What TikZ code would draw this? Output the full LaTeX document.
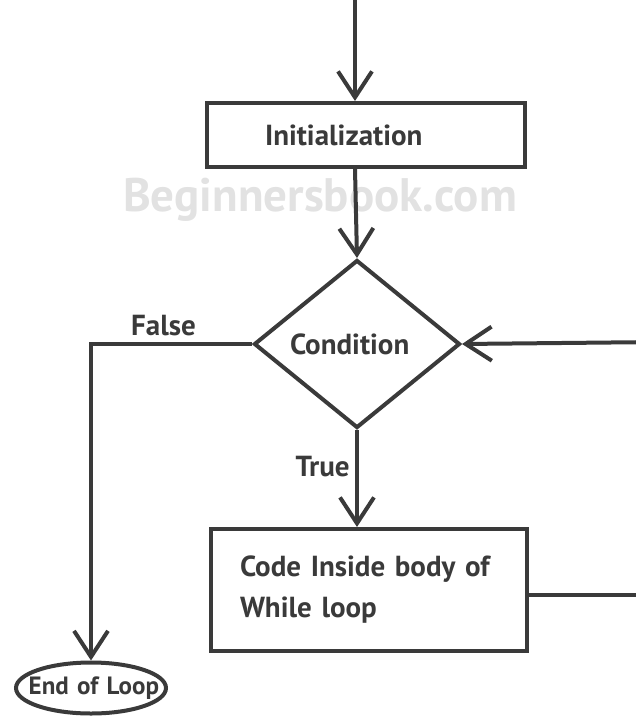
\documentclass[tikz,border=0pt]{standalone}
\usepackage{fontspec}
\setmainfont{PT Sans}
\usetikzlibrary{arrows.meta,shapes.geometric}
\definecolor{flowLine}{RGB}{58,58,58}
\definecolor{markGray}{RGB}{226,226,226}

\begin{document}
\begin{tikzpicture}[x=1pt, y=-1pt,
    every node/.style={text=flowLine, font=\fontsize{29}{41}\selectfont\bfseries},
    flow/.style={draw=flowLine, line width=4pt},
    stepbox/.style={flow, rectangle, inner sep=0pt},
    arrowline/.style={flow, -{Straight Barb[length=26pt, width=34pt, line width=4pt]}}
]
\useasboundingbox (0,0) rectangle (636,718);
\clip (0,0) rectangle (636,718);

% watermark behind the flow
\node[text=markGray, font=\fontsize{47}{50}\selectfont\bfseries] (mark) at (320,200) {Beginnersbook.com};

% steps of the loop (text sits a little off centre)
\node[stepbox, minimum width=318pt, minimum height=64pt, text width=202pt, align=left] (init) at (366,135) {Initialization};
\node[stepbox, diamond, minimum width=206pt, minimum height=168pt, text width=134pt, align=left] (cond) at (357,344) {Condition};
\node[stepbox, minimum width=316pt, minimum height=122pt, text width=258pt, align=left] (body) at (369,590) {Code Inside body of\\While loop};
\node[flow, ellipse, inner xsep=-25pt, inner ysep=6pt, minimum width=150pt, minimum height=51pt,
      text width=136pt, align=right, font=\fontsize{25}{28}\selectfont\bfseries] (end) at (91,688) {End of Loop};

\coordinate (entry) at (355,0);
\coordinate (backout) at (660,595);
\coordinate (backin) at (660,342);
\coordinate (falsebend) at (91,344);

% connectors
\draw[arrowline] (entry) -- (init.north -| entry);
\draw[arrowline] (init.south -| entry) -- (cond.north);
\draw[arrowline] (cond.south) -- node[left, pos=0.38, xshift=-2pt] {True} (cond.south |- body.north);
\draw[arrowline] (cond.west) -- node[above, pos=0.55, yshift=3pt] {False} (falsebend) -- (end.north);
\draw[flow] (body.east |- backout) -- (backout);
\draw[arrowline] (backin) -- (cond.east);
\end{tikzpicture}
\end{document}
